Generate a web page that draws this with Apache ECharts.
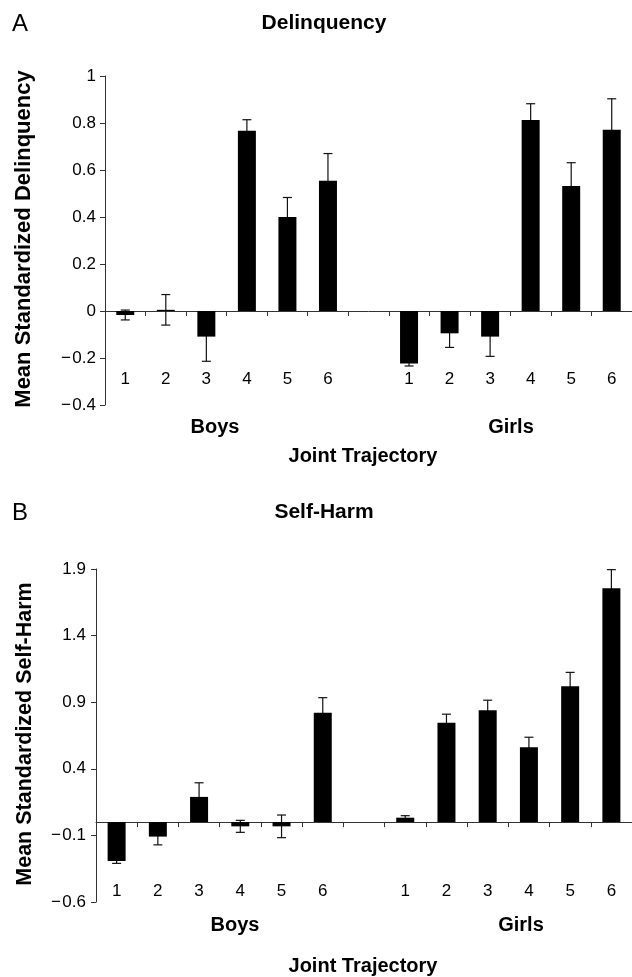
<!DOCTYPE html>
<html>
<head>
<meta charset="utf-8">
<script src="https://cdn.jsdelivr.net/npm/echarts@6/dist/echarts.min.js"></script>
<style>
html,body{margin:0;padding:0;background:#fff;}
#chart{width:632px;height:977px;}
</style>
</head>
<body>
<div id="chart"></div>
<script>
// ---- data ----
const categories = ['1','2','3','4','5','6','','1','2','3','4','5','6'];

const delinqBoys     = [-0.017, 0.005, -0.109, 0.767, 0.400, 0.554];
const delinqBoysErr  = [0.021, 0.065, 0.105, 0.047, 0.083, 0.116];
const delinqGirls    = [-0.223, -0.095, -0.109, 0.813, 0.532, 0.771];
const delinqGirlsErr = [0.011, 0.060, 0.084, 0.069, 0.099, 0.132];

const harmBoys     = [-0.292, -0.109, 0.189, -0.032, -0.032, 0.821];
const harmBoysErr  = [0.018, 0.062, 0.106, 0.045, 0.085, 0.113];
const harmGirls    = [0.033, 0.745, 0.840, 0.562, 1.020, 1.755];
const harmGirlsErr = [0.015, 0.065, 0.075, 0.075, 0.104, 0.140];

const delinqTicks = [-0.4, -0.2, 0, 0.2, 0.4, 0.6, 0.8, 1];
const harmTicks   = [-0.6, -0.1, 0.4, 0.9, 1.4, 1.9];

const panelTitles = ['Delinquency', 'Self-Harm'];
const yTitles = ['Mean Standardized Delinquency', 'Mean Standardized Self-Harm'];
const groupLabels = ['Boys', 'Girls'];
const xTitle = 'Joint Trajectory';

// ---- build ----
const FONT = '"Liberation Sans", Arial, sans-serif';
function joinGroups(a, b) { return a.concat(['-'], b); }
function errData(vals, errs, offset) {
  return vals.map((v, i) => [i + offset, v, errs[i]]);
}
function fmt(v) {
  const r = Math.round(v * 10) / 10;
  return String(r).replace('-', '\u2212\u200A');
}

function renderErr(params, api) {
  const x = api.value(0), v = api.value(1), e = api.value(2);
  const top = api.coord([x, v + e]);
  const bot = api.coord([x, v - e]);
  const hw = 4.5;
  const st = { stroke: '#111', lineWidth: 1.2 };
  return {
    type: 'group',
    children: [
      { type: 'line', shape: { x1: top[0], y1: top[1], x2: bot[0], y2: bot[1] }, style: st },
      { type: 'line', shape: { x1: top[0] - hw, y1: top[1], x2: top[0] + hw, y2: top[1] }, style: st },
      { type: 'line', shape: { x1: bot[0] - hw, y1: bot[1], x2: bot[0] + hw, y2: bot[1] }, style: st }
    ]
  };
}

function xAxisCfg(gi, margin) {
  return {
    type: 'category', gridIndex: gi, data: categories,
    axisLine: { onZero: true, lineStyle: { color: '#333', width: 1 } },
    axisTick: { show: true, length: 5, alignWithLabel: false, lineStyle: { color: '#333' } },
    axisLabel: { margin: margin, fontSize: 17, color: '#000', fontFamily: FONT, interval: 0 },
    splitLine: { show: false }
  };
}
function yAxisCfg(gi, ticks, margin) {
  const step = Math.round((ticks[1] - ticks[0]) * 10) / 10;
  return {
    type: 'value', gridIndex: gi,
    min: ticks[0], max: ticks[ticks.length - 1], interval: step,
    axisLine: { show: true, lineStyle: { color: '#333', width: 1 } },
    axisTick: { show: true, length: 5, lineStyle: { color: '#333' } },
    axisLabel: { margin: margin, fontSize: 17, color: '#000', fontFamily: FONT, formatter: fmt },
    splitLine: { show: false }
  };
}

function txt(text, x, y, font, rot) {
  return {
    type: 'text', x: x, y: y, rotation: rot || 0, silent: true,
    style: { text: text, align: 'center', verticalAlign: 'middle', font: font, fill: '#000' }
  };
}
const BOLD20 = 'bold 20px ' + FONT;
const BOLD21 = 'bold 21px ' + FONT;

const option = {
  backgroundColor: '#fff',
  animation: false,
  grid: [
    { left: 105, top: 76, width: 529, height: 329 },
    { left: 96, top: 569, width: 538, height: 333 }
  ],
  xAxis: [xAxisCfg(0, -34), xAxisCfg(1, -19)],
  yAxis: [yAxisCfg(0, delinqTicks, 9), yAxisCfg(1, harmTicks, 10)],
  series: [
    { type: 'bar', xAxisIndex: 0, yAxisIndex: 0, barWidth: 18, z: 3,
      itemStyle: { color: '#000' }, data: joinGroups(delinqBoys, delinqGirls) },
    { type: 'custom', xAxisIndex: 0, yAxisIndex: 0, renderItem: renderErr, z: 1,
      data: errData(delinqBoys, delinqBoysErr, 0).concat(errData(delinqGirls, delinqGirlsErr, 7)) },
    { type: 'bar', xAxisIndex: 1, yAxisIndex: 1, barWidth: 18, z: 3,
      itemStyle: { color: '#000' }, data: joinGroups(harmBoys, harmGirls) },
    { type: 'custom', xAxisIndex: 1, yAxisIndex: 1, renderItem: renderErr, z: 1,
      data: errData(harmBoys, harmBoysErr, 0).concat(errData(harmGirls, harmGirlsErr, 7)) }
  ],
  graphic: [
    { type: 'text', x: 12, y: 24, silent: true,
      style: { text: 'A', align: 'left', verticalAlign: 'middle', font: '24px ' + FONT, fill: '#000' } },
    txt(panelTitles[0], 324, 23, BOLD21),
    txt(yTitles[0], 24, 239, 'bold 22px ' + FONT, Math.PI / 2),
    txt(groupLabels[0], 215, 427, BOLD20),
    txt(groupLabels[1], 511, 427, BOLD20),
    txt(xTitle, 363, 456, BOLD20),

    { type: 'text', x: 12, y: 513, silent: true,
      style: { text: 'B', align: 'left', verticalAlign: 'middle', font: '24px ' + FONT, fill: '#000' } },
    txt(panelTitles[1], 324, 512, BOLD21),
    txt(yTitles[1], 25, 734, 'bold 21.5px ' + FONT, Math.PI / 2),
    txt(groupLabels[0], 235, 925, BOLD20),
    txt(groupLabels[1], 521, 925, BOLD20),
    txt(xTitle, 363, 966, BOLD20)
  ]
};

const chart = echarts.init(document.getElementById('chart'), null, { renderer: 'canvas', width: 632, height: 977 });
chart.setOption(option);
</script>
</body>
</html>
